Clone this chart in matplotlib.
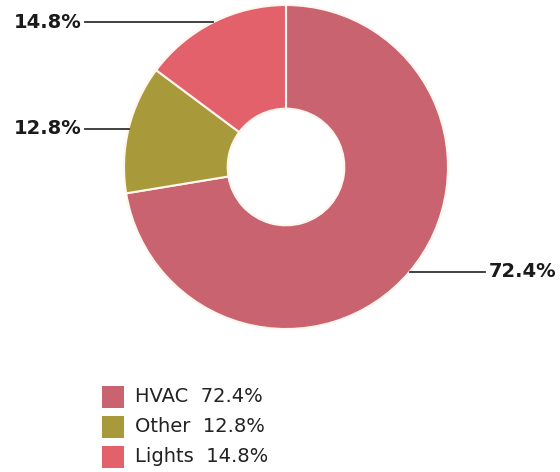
import numpy as np
import matplotlib
matplotlib.use('Agg')
import matplotlib.pyplot as plt
from matplotlib.patches import Rectangle

categories = ['HVAC', 'Other', 'Lights']
values = [72.4, 12.8, 14.8]
colors = ['#C9636F', '#A89A3A', '#E2616B']
label_texts = ['72.4%', '12.8%', '14.8%']
legend_values = ['72.4%', '12.8%', '14.8%']

W, H = 560, 472
fig = plt.figure(figsize=(5.6, 4.72), dpi=100)
ax = fig.add_axes([0, 0, 1, 1])

# pixel layout measured from top-left, converted to data (y up)
cx, cy, r = 286, H - 167, 162
wedges, _ = ax.pie(values, colors=colors, startangle=90, counterclock=False,
                   center=(cx, cy), radius=r,
                   wedgeprops=dict(width=r * 0.64, edgecolor='#FFF6EE', linewidth=1.5))

# callout lines: horizontal from wedge midpoint to label
for w, txt in zip(wedges, label_texts):
    ang = np.deg2rad((w.theta1 + w.theta2) / 2)
    ex = cx + r * np.cos(ang)
    ey = cy + r * np.sin(ang)
    if np.cos(ang) > 0:
        tx = 485
        ax.plot([ex, tx], [ey, ey], color='#333333', lw=1.3)
        ax.text(tx + 4, ey, txt, ha='left', va='center', fontsize=14, fontweight='bold',
                family=['DejaVu Sans'], color='#1a1a1a')
    else:
        tx = 85
        ax.plot([ex, tx], [ey, ey], color='#333333', lw=1.3)
        ax.text(tx - 3, ey, txt, ha='right', va='center', fontsize=14, fontweight='bold',
                family=['DejaVu Sans'], color='#1a1a1a')

# legend
for i, (c, name, val) in enumerate(zip(colors, categories, legend_values)):
    y = H - (397 + i * 30)
    ax.add_patch(Rectangle((102, y - 11), 22, 22, facecolor=c, edgecolor='none'))
    ax.text(135, y, f'{name}  {val}', ha='left', va='center', fontsize=14,
            family=['DejaVu Sans'], color='#222222')

ax.set_xlim(0, W)
ax.set_ylim(0, H)
ax.set_aspect('auto')
ax.axis('off')

fig.savefig('out.png', dpi=100)
